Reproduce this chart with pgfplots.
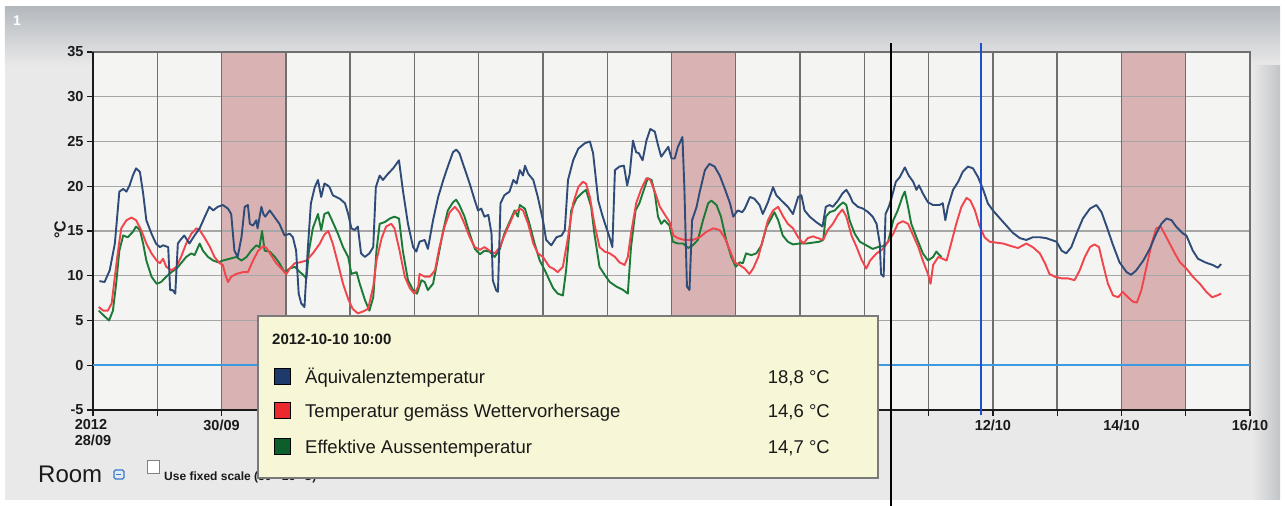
\documentclass[border=0pt]{standalone}
\usepackage{pgfplots}
\pgfplotsset{compat=1.18}
\usepackage{fontspec}
\setmainfont{Liberation Sans}
\pgfdeclarelayer{background}
\pgfsetlayers{background,main}
\definecolor{panel}{HTML}{E9E9E9}
\definecolor{topband}{HTML}{B4B9BE}
\definecolor{sidegray}{HTML}{C2C5C8}
\definecolor{plotbg}{HTML}{F4F4F2}
\definecolor{bandpink}{HTML}{D9B3B4}
\definecolor{vgrid}{HTML}{6F6F6F}
\definecolor{hgrid}{HTML}{A6A6A6}
\definecolor{zeroline}{HTML}{3C9BE0}
\definecolor{sblue}{HTML}{2F4B78}
\definecolor{sred}{HTML}{F2444B}
\definecolor{sgreen}{HTML}{1B7A36}
\definecolor{tipbg}{HTML}{F7F6D6}
\definecolor{tipborder}{HTML}{7A7A7A}
\definecolor{sqblue}{HTML}{1E3A6B}
\definecolor{sqred}{HTML}{EC2A2E}
\definecolor{sqgreen}{HTML}{0C5E2A}
\definecolor{labc}{HTML}{1A1A1A}
\definecolor{markblue}{HTML}{1F4FD0}
\definecolor{iconblue}{HTML}{3A78C8}
\begin{document}
\begin{tikzpicture}[x=1bp,y=1bp]
\begin{axis}[
  scale only axis, width=1157bp, height=358bp,
  xmin=0, xmax=18, ymin=-5, ymax=35,
  axis background/.style={fill=plotbg},
  xtick={0,...,18},
  xticklabels={{2012\\28/09},,30/09,,,,,,,,,,,,12/10,,14/10,,16/10},
  ytick={-5,0,5,10,15,20,25,30,35},
  yticklabels={-5,0,5,10,15,20,25,30,35},
  tick pos=left, tick align=outside, major tick length=6bp,
  tick style={line width=1.2bp, color=labc},
  axis line style={line width=1.4bp, color=vgrid},
  ticklabel style={font=\bfseries\fontsize{14.5bp}{16bp}\selectfont, text=labc},
  xticklabel style={align=left},
  clip=false,
]
\coordinate (O) at (rel axis cs:0,0);
% weekend bands
\addplot[fill=bandpink, draw=none] coordinates {(2,-5) (3,-5) (3,35) (2,35)} -- cycle;
\addplot[fill=bandpink, draw=none] coordinates {(9,-5) (10,-5) (10,35) (9,35)} -- cycle;
\addplot[fill=bandpink, draw=none] coordinates {(16,-5) (17,-5) (17,35) (16,35)} -- cycle;
% grid
\pgfplotsinvokeforeach{5,10,15,20,25,30}{\addplot[hgrid, line width=1.4bp, mark=none] coordinates {(0,#1) (18,#1)};}
\pgfplotsinvokeforeach{1,...,17}{\addplot[vgrid, line width=1.4bp, mark=none] coordinates {(#1,-5) (#1,35)};}
\addplot[vgrid, line width=1.4bp, mark=none] coordinates {(0,35) (18,35) (18,-5)};
\addplot[labc, line width=1.4bp, mark=none] coordinates {(0,35) (0,-5) (18,-5)};
\addplot[zeroline, line width=1.8bp, mark=none] coordinates {(0,0) (18,0)};
% Effektive Aussentemperatur
\addplot[sgreen, line width=1.9bp, mark=none, line join=round] coordinates {
(0.09,6.1) (0.16,5.6) (0.25,5.0) (0.31,6.1) (0.36,9.1) (0.41,12.8) (0.47,14.5) (0.54,14.3) (0.62,14.9) (0.67,15.5) (0.73,15.1) (0.78,13.6) (0.83,11.7) (0.91,9.9) (0.99,9.1) (1.06,9.3) (1.14,9.9) (1.22,10.4) (1.30,10.8) (1.37,11.4) (1.45,12.1) (1.53,12.5) (1.58,12.3) (1.66,13.6) (1.71,12.8) (1.79,12.1) (1.87,11.7) (1.95,11.5) (2.02,11.7) (2.13,11.9) (2.23,12.1) (2.31,11.7) (2.39,12.1) (2.46,12.8) (2.54,13.4) (2.59,13.2) (2.63,15.0) (2.67,12.8) (2.75,12.7) (2.83,12.1) (2.90,11.4) (2.98,10.4) (3.06,10.8) (3.14,11.0) (3.22,10.4) (3.27,10.1) (3.32,9.7) (3.36,12.8) (3.42,15.3) (3.50,16.9) (3.55,15.1) (3.60,16.9) (3.66,17.1) (3.73,16.0) (3.81,14.7) (3.89,13.2) (3.97,12.1) (4.02,10.2) (4.10,10.4) (4.15,9.1) (4.23,7.3) (4.30,6.1) (4.36,7.6) (4.41,12.8) (4.46,15.8) (4.54,16.0) (4.62,16.4) (4.69,16.6) (4.76,16.4) (4.82,12.8) (4.90,9.5) (4.98,8.4) (5.04,8.0) (5.11,9.5) (5.16,9.3) (5.21,8.4) (5.29,9.1) (5.37,12.1) (5.45,15.1) (5.52,17.3) (5.60,18.2) (5.65,18.5) (5.70,17.9) (5.78,16.6) (5.86,14.7) (5.94,13.0) (6.02,12.4) (6.09,12.8) (6.17,12.7) (6.25,12.1) (6.33,13.0) (6.40,14.7) (6.48,16.0) (6.56,17.3) (6.61,16.6) (6.64,17.9) (6.72,17.5) (6.79,15.8) (6.87,13.6) (6.95,11.7) (7.03,10.6) (7.10,9.5) (7.16,8.6) (7.23,8.0) (7.31,7.8) (7.36,10.6) (7.44,17.3) (7.52,18.6) (7.60,19.2) (7.67,19.6) (7.75,17.7) (7.80,14.7) (7.88,11.0) (7.96,10.1) (8.04,9.3) (8.14,8.8) (8.25,8.4) (8.32,8.0) (8.37,13.2) (8.44,17.3) (8.50,18.1) (8.57,19.6) (8.63,20.9) (8.69,20.7) (8.74,19.2) (8.79,16.6) (8.84,15.8) (8.89,16.2) (8.97,15.6) (9.02,13.8) (9.10,13.6) (9.18,13.6) (9.26,13.1) (9.33,13.4) (9.41,14.0) (9.49,16.2) (9.57,18.1) (9.62,18.4) (9.70,17.9) (9.77,16.6) (9.85,14.0) (9.93,12.1) (10.00,11.0) (10.06,11.5) (10.11,11.4) (10.16,12.5) (10.24,12.3) (10.32,12.5) (10.40,13.4) (10.48,15.5) (10.55,16.4) (10.60,17.1) (10.66,16.2) (10.73,14.5) (10.81,13.8) (10.89,13.5) (10.99,13.6) (11.10,13.6) (11.20,13.7) (11.30,13.8) (11.36,14.0) (11.40,16.6) (11.46,17.1) (11.54,17.3) (11.62,17.9) (11.67,18.2) (11.72,17.9) (11.77,16.2) (11.85,14.7) (11.93,13.8) (12.03,13.4) (12.13,13.0) (12.21,13.2) (12.29,13.3) (12.37,13.8) (12.45,16.2) (12.52,17.3) (12.59,18.8) (12.63,19.4) (12.68,17.7) (12.73,15.8) (12.81,14.3) (12.91,12.5) (12.99,11.7) (13.07,12.1) (13.12,12.7) (13.17,12.3) (13.20,12.1)
};
% Temperatur gemaess Wettervorhersage
\addplot[sred, line width=1.9bp, mark=none, line join=round] coordinates {
(0.09,6.5) (0.16,6.1) (0.23,6.1) (0.29,6.9) (0.34,9.9) (0.39,12.8) (0.44,15.3) (0.52,16.2) (0.60,16.5) (0.67,16.2) (0.75,15.1) (0.83,13.6) (0.91,12.5) (0.99,11.7) (1.04,11.4) (1.09,11.9) (1.14,11.0) (1.22,10.6) (1.30,11.0) (1.37,12.1) (1.45,13.6) (1.53,14.7) (1.61,15.3) (1.66,15.1) (1.74,14.2) (1.82,13.2) (1.89,12.1) (1.97,11.4) (2.02,11.2) (2.06,10.1) (2.10,9.3) (2.15,9.9) (2.23,10.2) (2.33,10.4) (2.41,10.4) (2.49,11.7) (2.57,12.8) (2.65,13.3) (2.70,13.1) (2.77,12.3) (2.85,11.4) (2.93,10.8) (3.01,10.2) (3.06,10.8) (3.14,11.4) (3.22,11.5) (3.32,11.7) (3.42,12.5) (3.53,13.6) (3.60,14.6) (3.66,15.0) (3.73,13.6) (3.81,11.4) (3.89,9.1) (3.97,7.4) (4.04,6.3) (4.12,5.8) (4.20,6.0) (4.28,6.3) (4.36,8.8) (4.41,11.7) (4.49,14.2) (4.56,15.5) (4.64,15.8) (4.69,15.3) (4.77,12.8) (4.85,9.9) (4.93,8.6) (5.00,8.0) (5.06,8.8) (5.08,10.2) (5.16,9.9) (5.24,9.9) (5.32,10.6) (5.39,13.2) (5.47,15.5) (5.55,17.1) (5.63,17.7) (5.70,17.1) (5.78,15.8) (5.86,14.3) (5.94,13.2) (6.02,12.9) (6.09,13.2) (6.17,12.8) (6.25,12.5) (6.33,13.2) (6.40,14.5) (6.48,15.8) (6.56,17.1) (6.64,17.5) (6.69,17.3) (6.77,15.8) (6.85,13.6) (6.92,12.5) (7.00,12.1) (7.10,11.0) (7.16,10.8) (7.23,10.4) (7.31,11.0) (7.39,14.3) (7.47,18.1) (7.55,19.9) (7.62,20.5) (7.67,20.3) (7.73,18.8) (7.80,15.8) (7.88,13.2) (7.96,12.7) (8.04,12.5) (8.12,12.1) (8.19,11.5) (8.27,11.2) (8.32,12.1) (8.37,14.7) (8.45,18.1) (8.53,19.7) (8.61,20.9) (8.67,20.7) (8.74,19.4) (8.82,17.7) (8.89,16.9) (8.97,16.0) (9.03,14.5) (9.10,14.2) (9.20,14.0) (9.33,14.0) (9.44,14.3) (9.54,14.9) (9.65,15.3) (9.75,15.1) (9.83,14.2) (9.91,12.8) (9.98,11.5) (10.06,11.2) (10.14,10.8) (10.21,10.2) (10.27,10.8) (10.35,12.1) (10.42,14.0) (10.50,16.2) (10.58,17.3) (10.66,17.7) (10.73,16.7) (10.81,15.8) (10.89,15.3) (10.97,14.3) (11.05,13.6) (11.12,14.2) (11.20,14.4) (11.28,14.2) (11.36,14.0) (11.43,15.1) (11.51,15.8) (11.59,16.8) (11.66,17.4) (11.72,16.6) (11.80,14.5) (11.88,13.2) (11.95,11.9) (12.03,10.8) (12.09,11.7) (12.19,12.5) (12.29,13.0) (12.37,13.8) (12.45,14.7) (12.52,15.8) (12.60,16.1) (12.68,15.8) (12.76,14.5) (12.84,13.2) (12.91,11.7) (12.99,10.2) (13.03,9.1) (13.07,11.2) (13.15,12.1) (13.22,11.9) (13.28,11.7) (13.35,13.6) (13.43,15.8) (13.51,17.7) (13.59,18.7) (13.65,18.4) (13.72,17.3) (13.79,15.6) (13.87,14.3) (13.95,13.8) (14.05,13.7) (14.16,13.6) (14.29,13.3) (14.39,13.1) (14.52,13.6) (14.62,13.2) (14.73,12.5) (14.81,11.4) (14.88,10.2) (14.96,9.9) (15.07,9.7) (15.17,9.7) (15.27,9.5) (15.35,10.6) (15.43,12.1) (15.51,13.2) (15.58,13.5) (15.65,13.2) (15.71,11.4) (15.79,9.1) (15.87,7.8) (15.95,7.6) (16.02,8.2) (16.10,7.6) (16.18,7.1) (16.24,7.0) (16.31,8.4) (16.39,11.0) (16.47,13.6) (16.54,15.3) (16.61,15.5) (16.67,14.7) (16.75,13.6) (16.83,12.5) (16.91,11.5) (17.01,10.8) (17.11,9.9) (17.22,9.1) (17.32,8.2) (17.41,7.6) (17.49,7.8) (17.55,8.0)
};
% Aequivalenztemperatur
\addplot[sblue, line width=1.9bp, mark=none, line join=round] coordinates {
(0.10,9.4) (0.18,9.3) (0.26,10.6) (0.34,13.6) (0.41,19.4) (0.47,19.7) (0.52,19.4) (0.57,20.1) (0.62,21.2) (0.67,22.0) (0.73,21.6) (0.78,19.2) (0.83,16.2) (0.91,14.7) (0.98,13.6) (1.04,13.2) (1.09,13.4) (1.17,13.2) (1.20,8.4) (1.24,8.4) (1.28,8.0) (1.32,13.6) (1.36,14.0) (1.42,14.5) (1.50,13.6) (1.58,14.5) (1.66,15.3) (1.74,16.6) (1.81,17.7) (1.87,17.3) (1.94,17.7) (2.02,17.9) (2.10,17.5) (2.15,16.9) (2.20,12.8) (2.25,12.1) (2.31,14.3) (2.36,17.7) (2.41,17.9) (2.44,15.8) (2.49,15.6) (2.54,16.2) (2.56,15.3) (2.62,17.7) (2.65,16.9) (2.68,16.6) (2.75,17.3) (2.82,16.6) (2.90,15.8) (2.98,14.5) (3.06,14.7) (3.11,14.3) (3.16,12.8) (3.20,8.0) (3.24,6.9) (3.29,6.5) (3.34,12.8) (3.39,18.1) (3.45,19.9) (3.50,20.7) (3.55,18.8) (3.60,20.3) (3.65,20.1) (3.68,19.9) (3.73,19.0) (3.84,18.6) (3.92,18.1) (3.97,16.9) (4.02,15.3) (4.07,15.1) (4.12,15.5) (4.17,12.5) (4.23,12.1) (4.30,12.5) (4.36,13.2) (4.40,19.9) (4.46,21.2) (4.51,20.7) (4.59,21.4) (4.67,22.0) (4.76,22.9) (4.82,19.6) (4.90,15.8) (4.98,13.2) (5.03,12.7) (5.08,13.8) (5.16,14.0) (5.21,13.0) (5.29,16.2) (5.37,18.8) (5.45,20.7) (5.52,22.2) (5.60,23.8) (5.65,24.1) (5.70,23.7) (5.78,22.0) (5.86,20.3) (5.94,18.4) (5.99,17.3) (6.04,17.5) (6.09,16.6) (6.15,16.8) (6.20,14.7) (6.22,9.5) (6.27,8.4) (6.30,8.2) (6.34,18.1) (6.40,19.0) (6.48,19.4) (6.54,20.7) (6.59,20.3) (6.64,21.8) (6.69,21.2) (6.72,22.3) (6.77,21.4) (6.85,20.7) (6.92,18.8) (7.00,16.2) (7.05,14.0) (7.13,13.4) (7.21,14.3) (7.29,14.5) (7.34,15.1) (7.39,20.7) (7.47,22.9) (7.55,24.2) (7.65,24.8) (7.73,25.0) (7.78,23.7) (7.86,18.4) (7.93,16.6) (7.99,15.3) (8.04,14.2) (8.08,13.2) (8.12,21.8) (8.19,22.2) (8.26,22.3) (8.31,20.1) (8.35,21.4) (8.40,25.1) (8.45,23.8) (8.49,23.7) (8.55,22.9) (8.61,25.1) (8.67,26.4) (8.74,26.1) (8.79,24.6) (8.84,23.3) (8.89,23.8) (8.95,24.4) (9.00,23.1) (9.05,23.1) (9.10,24.4) (9.17,25.5) (9.20,19.9) (9.24,8.8) (9.28,8.4) (9.32,16.2) (9.39,17.7) (9.44,19.4) (9.52,21.8) (9.59,22.5) (9.67,22.2) (9.75,21.2) (9.83,19.7) (9.91,18.1) (9.96,16.6) (10.03,17.3) (10.10,17.1) (10.14,17.5) (10.22,18.8) (10.29,18.6) (10.37,17.9) (10.42,16.9) (10.50,18.2) (10.58,19.9) (10.63,19.0) (10.71,18.4) (10.81,17.7) (10.89,16.9) (10.97,18.8) (11.02,19.0) (11.07,17.3) (11.15,16.6) (11.25,16.0) (11.35,15.5) (11.40,17.7) (11.46,17.9) (11.51,17.7) (11.59,18.4) (11.66,19.2) (11.72,19.6) (11.77,19.0) (11.82,18.2) (11.90,17.7) (11.98,17.5) (12.06,17.1) (12.13,16.6) (12.19,15.8) (12.24,13.6) (12.26,10.2) (12.30,9.9) (12.33,16.9) (12.38,17.7) (12.42,18.6) (12.49,20.5) (12.55,21.0) (12.63,22.1) (12.69,21.2) (12.76,20.5) (12.81,19.6) (12.85,20.1) (12.91,19.2) (12.99,18.2) (13.07,17.9) (13.17,17.9) (13.22,18.1) (13.26,16.2) (13.30,17.7) (13.38,19.6) (13.46,20.5) (13.53,21.6) (13.61,22.2) (13.69,22.0) (13.77,21.0) (13.85,19.6) (13.92,18.1) (14.00,17.3) (14.11,16.4) (14.21,15.6) (14.31,14.8) (14.42,14.2) (14.52,14.0) (14.62,14.3) (14.73,14.3) (14.83,14.2) (14.99,13.8) (15.07,12.8) (15.14,12.5) (15.22,13.2) (15.30,14.7) (15.40,16.4) (15.51,17.5) (15.61,17.9) (15.69,17.1) (15.77,15.5) (15.87,13.4) (15.97,11.5) (16.08,10.4) (16.15,10.1) (16.23,10.6) (16.34,11.7) (16.44,13.0) (16.54,14.7) (16.62,15.8) (16.70,16.4) (16.78,16.2) (16.85,15.5) (16.96,14.7) (17.01,14.5) (17.11,12.8) (17.19,11.9) (17.30,11.5) (17.42,11.2) (17.50,10.9) (17.55,11.3)
};
% cursor lines
\addplot[markblue, line width=1.8bp, mark=none] coordinates {(13.81,-5.6) (13.81,36)};
\addplot[black, line width=1.9bp, mark=none] coordinates {(12.417,-15.8) (12.417,36)};
\end{axis}

\begin{scope}[shift={(O)}]
\begin{scope}[shift={(-93,-96)}]
\begin{pgfonlayer}{background}
\fill[white] (0,0) rectangle (1285,506);
\fill[panel] (5,6) rectangle (1280,499);
\shade[top color=topband, bottom color=panel] (5,440) rectangle (1280,499);
\shade[left color=panel, right color=sidegray] (1252,6) rectangle (1280,440);
\end{pgfonlayer}
\node[white, font=\bfseries\fontsize{14bp}{14bp}\selectfont, anchor=base west, inner sep=0pt] at (13,480) {1};
\node[rotate=90, font=\bfseries\fontsize{16bp}{16bp}\selectfont, text=labc] at (60,276) {°C};

% bottom controls
\node[anchor=base west, inner sep=0pt, font=\fontsize{24bp}{24bp}\selectfont, text=labc] at (38,23) {Room};
\draw[iconblue, fill=iconblue!15, line width=1.2bp, rounded corners=1.5bp] (114,27) rectangle (124,36);
\draw[iconblue, line width=1.6bp] (116.5,31.5) -- (121.5,31.5);
\draw[gray, fill=white, line width=1bp] (147,32) rectangle (159,45);
\node[anchor=base west, inner sep=0pt, font=\bfseries\fontsize{12bp}{12bp}\selectfont, text=labc] at (164,25) {Use fixed scale (30 - 25 °C)};

% tooltip
\filldraw[fill=tipbg, draw=tipborder, line width=1.3bp] (258,28) rectangle (878,190);
\node[anchor=base west, inner sep=0pt, font=\bfseries\fontsize{15bp}{15bp}\selectfont, text=labc] at (272,161) {2012-10-10 10:00};
\filldraw[fill=sqblue, draw=black, line width=1bp] (274,121) rectangle (290,137);
\filldraw[fill=sqred, draw=black, line width=1bp] (274,87) rectangle (290,103);
\filldraw[fill=sqgreen, draw=black, line width=1bp] (274,51) rectangle (290,67);
\begin{scope}[every node/.style={inner sep=0pt, font=\fontsize{18.5bp}{18.5bp}\selectfont, text=labc}]
\node[anchor=base west] at (305,122.5) {Äquivalenztemperatur};
\node[anchor=base west] at (305,88.5) {Temperatur gemäss Wettervorhersage};
\node[anchor=base west] at (305,52.5) {Effektive Aussentemperatur};
\node[anchor=base east] at (830,122.5) {18,8 °C};
\node[anchor=base east] at (830,88.5) {14,6 °C};
\node[anchor=base east] at (830,52.5) {14,7 °C};
\end{scope}
\pgfresetboundingbox
\path[use as bounding box] (0,0) rectangle (1285,506);
\end{scope}
\end{scope}
\end{tikzpicture}
\end{document}
